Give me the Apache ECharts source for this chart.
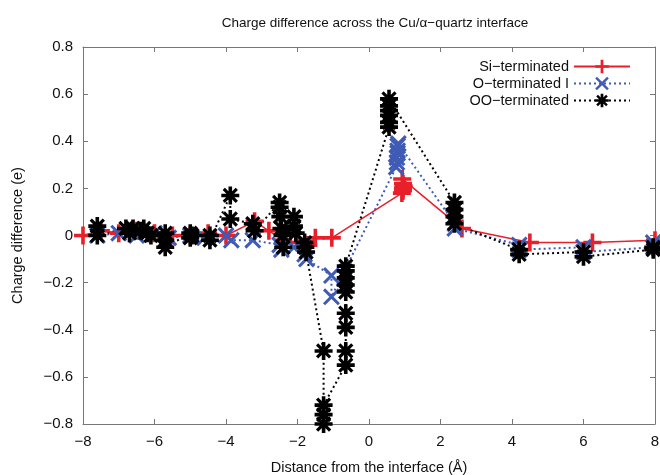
<!DOCTYPE html>
<html>
<head>
<meta charset="utf-8">
<script src="https://cdn.jsdelivr.net/npm/echarts@6/dist/echarts.min.js"></script>
<style>
  html, body { margin: 0; padding: 0; background: #fff; }
  #main { width: 660px; height: 475px; }
</style>
</head>
<body>
<div id="main"></div>
<script>
// Si-terminated (red, solid, +)
var siX = [-8, -7.5, -7.0, -6.5, -6.0, -5.5, -5.0, -4.5, -4.0, -3.2, -2.8, -2.4, -2.0, -1.7, -1.5, -1.04,
  0.92, 0.95, 0.95, 0.97, 0.95, 0.93, 2.6, 4.5, 6.25, 8];
var siY = [0.0, 0.02, 0.01, 0.02, 0.01, 0.0, 0.0, 0.01, 0.0, 0.06, 0.02, -0.02, -0.03, -0.04, -0.01, -0.01,
  0.18, 0.19, 0.2, 0.21, 0.22, 0.24, 0.03, -0.03, -0.03, -0.02];

// O-terminated I (blue, dotted, x)
var oX = [-7.6, -7.0, -6.5, -6.0, -5.6, -5.0, -4.6, -4.0, -3.85, -3.25, -2.5, -2.45, -2.1, -1.8, -1.75,
  -1.05, -1.05, 0.76, 0.78, 0.78, 0.8, 0.8, 0.8, 0.82, 2.4, 2.4, 4.2, 4.2, 6.0, 6.0, 7.95, 7.95];
var oY = [0.0, 0.01, 0.0, 0.01, -0.01, 0.0, -0.01, 0.0, -0.02, -0.02, -0.04, -0.06, -0.05, -0.08, -0.1,
  -0.17, -0.26, 0.29, 0.31, 0.33, 0.35, 0.36, 0.38, 0.39, 0.05, 0.03, -0.04, -0.06, -0.05, -0.07, -0.05, -0.03];

// OO-terminated (black, dotted, *)
var ooX = [-7.6, -7.6, -6.8, -6.7, -6.6, -6.4, -6.3, -6.2, -6.1, -5.7, -5.7, -5.7, -5.0, -5.0, -4.95, -4.45, -4.45,
  -3.88, -3.88, -3.25, -3.2, -2.5, -2.5, -2.48, -2.45, -2.42, -2.4, -2.1, -2.1, -2.05, -1.8, -1.78, -1.76,
  -1.27, -1.27, -1.27, -1.27,
  -0.65, -0.65, -0.65, -0.65, -0.65, -0.65, -0.65, -0.65, -0.65,
  0.56, 0.56, 0.56, 0.56, 0.56, 0.56,
  2.39, 2.39, 2.39, 2.39, 4.2, 4.2, 6.0, 6.0, 7.95, 7.95];
var ooY = [0.04, 0.0, 0.03, 0.01, 0.03, 0.02, 0.03, 0.01, 0.0, 0.01, -0.02, -0.05, 0.01, -0.01, 0.0, 0.0, -0.02,
  0.17, 0.07, 0.05, 0.02, 0.14, 0.12, 0.08, 0.03, 0.0, -0.05, 0.08, 0.04, 0.01, -0.03, -0.05, -0.07,
  -0.49, -0.8, -0.76, -0.72,
  -0.55, -0.49, -0.39, -0.33, -0.24, -0.21, -0.18, -0.15, -0.13,
  0.46, 0.48, 0.51, 0.53, 0.55, 0.58,
  0.14, 0.11, 0.08, 0.05, -0.06, -0.08, -0.07, -0.09, -0.06, -0.05];

function pairs(xs, ys) {
  return xs.map(function (x, i) { return [x, ys[i]]; });
}

var plusPath = "path://M-10,-2 H10 V2 H-10 Z M-2,-10 H2 V10 H-2 Z";
var crossPath = "path://M-10,-7.5 L-7.5,-10 L10,7.5 L7.5,10 Z M7.5,-10 L10,-7.5 L-7.5,10 L-10,7.5 Z";
var starPath = "path://M-10,-2 H10 V2 H-10 Z M-2,-10 H2 V10 H-2 Z M-8.5,-6 L-6,-8.5 L8.5,6 L6,8.5 Z M6,-8.5 L8.5,-6 L-6,8.5 L-8.5,6 Z";

var fontFam = "Liberation Sans, Arial, sans-serif";
var minus = function (v) { return String(v).replace("-", "\u2212"); };
var frameColor = "#777";

var myChart = echarts.init(document.getElementById("main"), null, { renderer: "canvas" });

function sideAxis(pos) {
  return {
    type: "value",
    position: pos,
    axisLine: { show: true, onZero: false, lineStyle: { color: frameColor } },
    axisTick: { inside: true, length: 5, lineStyle: { color: frameColor } },
    axisLabel: { show: false },
    splitLine: { show: false }
  };
}

var topX = sideAxis("top");
topX.min = -8; topX.max = 8; topX.interval = 2;
var rightY = sideAxis("right");
rightY.min = -0.8; rightY.max = 0.8; rightY.interval = 0.2;

var option = {
  animation: false,
  backgroundColor: "#fff",
  title: {
    text: "Charge difference across the Cu/\u03b1\u2212quartz interface",
    left: 370,
    textAlign: "center",
    top: 11,
    textStyle: { fontFamily: fontFam, fontSize: 13.5, fontWeight: "normal", color: "#111" }
  },
  legend: {
    orient: "vertical",
    right: 24,
    top: 54,
    align: "right",
    itemWidth: 56,
    itemHeight: 17,
    itemGap: 2,
    textStyle: { fontFamily: fontFam, fontSize: 14.5, color: "#111" },
    data: ["Si\u2212terminated", "O\u2212terminated I", "OO\u2212terminated"]
  },
  grid: {
    left: 83,
    right: 5,
    top: 47,
    bottom: 51,
    outerBoundsMode: "none",
    containLabel: false,
    show: false
  },
  xAxis: [
    {
      type: "value",
      min: -8, max: 8, interval: 2,
      name: "Distance from the interface (\u00c5)",
      nameLocation: "middle",
      nameGap: 36,
      nameTextStyle: { fontFamily: fontFam, fontSize: 14.5, color: "#111" },
      axisLine: { show: true, onZero: false, lineStyle: { color: frameColor } },
      axisTick: { inside: true, length: 5, lineStyle: { color: frameColor } },
      axisLabel: { margin: 10, fontFamily: fontFam, fontSize: 15, color: "#111", formatter: minus },
      splitLine: { show: false }
    },
    topX
  ],
  yAxis: [
    {
      type: "value",
      min: -0.8, max: 0.8, interval: 0.2,
      name: "Charge difference (e)",
      nameLocation: "middle",
      nameGap: 58,
      nameTextStyle: { fontFamily: fontFam, fontSize: 14.5, color: "#111" },
      axisLine: { show: true, onZero: false, lineStyle: { color: frameColor } },
      axisTick: { inside: true, length: 5, lineStyle: { color: frameColor } },
      axisLabel: {
        margin: 10, fontFamily: fontFam, fontSize: 15, color: "#111",
        formatter: function (v) { return minus(Math.round(v * 10) / 10); }
      },
      splitLine: { show: false }
    },
    rightY
  ],
  series: [
    {
      name: "Si\u2212terminated",
      type: "line",
      symbol: plusPath,
      symbolSize: 18,
      itemStyle: { color: "#e8202a" },
      lineStyle: { color: "#e8202a", width: 1.5, type: "solid" },
      data: pairs(siX, siY)
    },
    {
      name: "O\u2212terminated I",
      type: "line",
      symbol: crossPath,
      symbolSize: 17,
      itemStyle: { color: "#3f5bb5" },
      lineStyle: { color: "#3f5bb5", width: 2, type: [2, 3] },
      data: pairs(oX, oY)
    },
    {
      name: "OO\u2212terminated",
      type: "line",
      symbol: starPath,
      symbolSize: 18,
      itemStyle: { color: "#000" },
      lineStyle: { color: "#000", width: 2, type: [2, 3] },
      data: pairs(ooX, ooY)
    }
  ]
};

myChart.setOption(option);
</script>
</body>
</html>
